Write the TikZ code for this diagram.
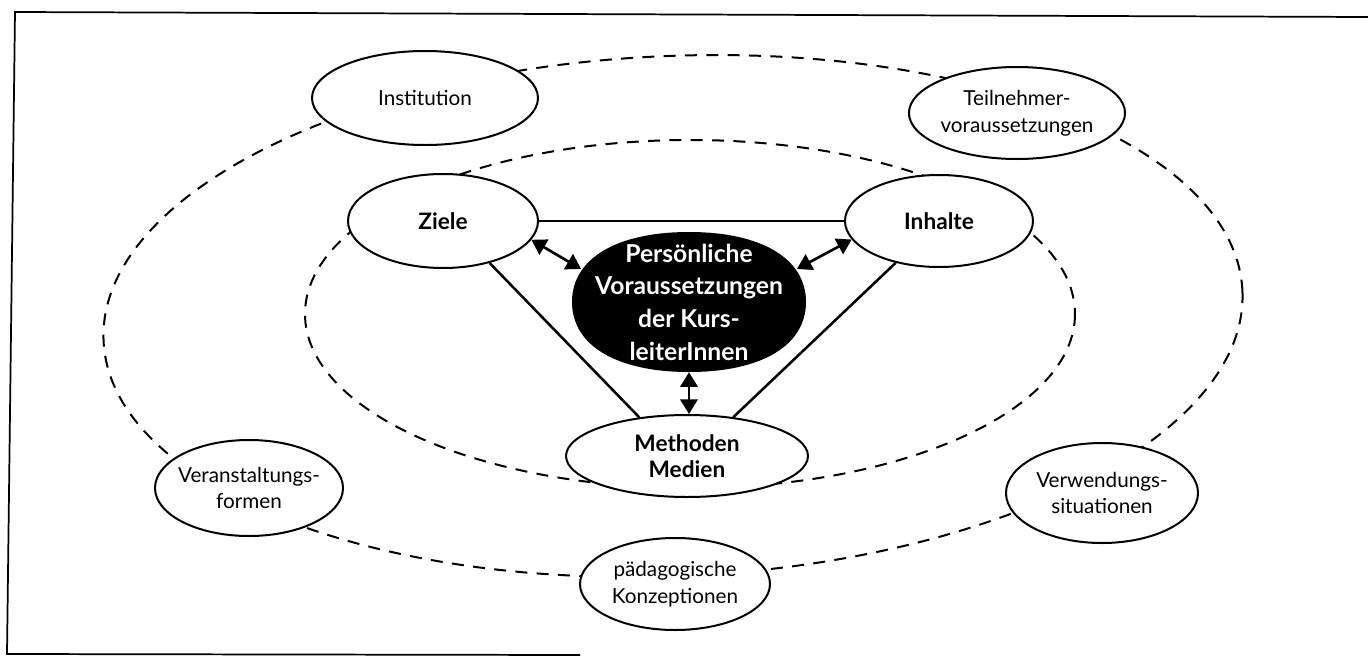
\documentclass[tikz,border=0pt]{standalone}
\usepackage{fontspec}
\setmainfont{Lato}
\usetikzlibrary{shapes.geometric,arrows.meta}
\begin{document}
\begin{tikzpicture}[x=0.75pt,y=-0.75pt,
  ell/.style 2 args={ellipse,draw,line width=1.5pt,fill=white,minimum width={#1*0.75pt},minimum height={#2*0.75pt},inner sep=0pt,align=center,font=\fontsize{15.5}{20}\selectfont},
  bell/.style={font=\fontsize{17}{19.5}\selectfont\bfseries},
  dsh/.style={dash pattern=on 9pt off 7pt,line width=1.5pt},
  conn/.style={line width=1.9pt},
  dbl/.style={line width=2pt,{Triangle[length=11pt,width=13pt]}-{Triangle[length=11pt,width=13pt]}}
]
\useasboundingbox (0,0) rectangle (1368,657);
\draw[line width=1.3pt] (1368,17) -- (15,12) -- (7,654) -- (580,655);
\draw[dsh] (690,314) ellipse [x radius=385, y radius=174];
\draw[dsh,rotate around={2.5:(673,316)}] (673,316) ellipse [x radius=570,y radius=260];
\node[ell={226}{94}] (inst) at (425,98) {Institution};
\node[ell={216}{92}] (teil) at (1017,113) {Teilnehmer-\\voraussetzungen};
\node[ell={190}{94},bell] (ziele) at (443,221) {Ziele};
\node[ell={188}{92},bell] (inh) at (939,221) {Inhalte};
\node[ellipse,minimum width={244*0.75pt},minimum height={140*0.75pt},inner sep=0pt] (pers) at (689,302) {};
\fill (806,302) .. controls (806,258.6) and (761.5,232) .. (689,232)
  .. controls (616.5,232) and (572,258.6) .. (572,302)
  .. controls (572,345.4) and (616.5,372) .. (689,372)
  .. controls (761.5,372) and (806,345.4) .. (806,302) -- cycle;
\node[text=white,align=center,font=\fontsize{18.5}{24.5}\selectfont\bfseries] (perstext) at (pers.center) {Persönliche\\Voraussetzungen\\der Kurs-\\leiterInnen};
\node[ell={242}{82},bell] (meth) at (687,456) {Methoden\\Medien};
\node[ell={188}{96},inner xsep=-5pt] (veran) at (249,488) {Veranstaltungs-\\formen};
\node[ell={192}{100},inner xsep=-4pt] (verw) at (1102,493) {Verwendungs-\\situationen};
\node[ell={190}{92}] (paed) at (675,584) {pädagogische\\Konzeptionen};
\draw[conn] (ziele.east) -- (inh.west);
\draw[conn] (ziele.-42) -- (meth.141);
\draw[conn] (inh.224) -- (meth.40);
\draw[dbl] (ziele.-12) -- (pers.163);
\draw[dbl] (inh.192) -- (pers.17);
\draw[dbl] (pers.south) -- (pers.south |- meth.north);
\end{tikzpicture}
\end{document}
